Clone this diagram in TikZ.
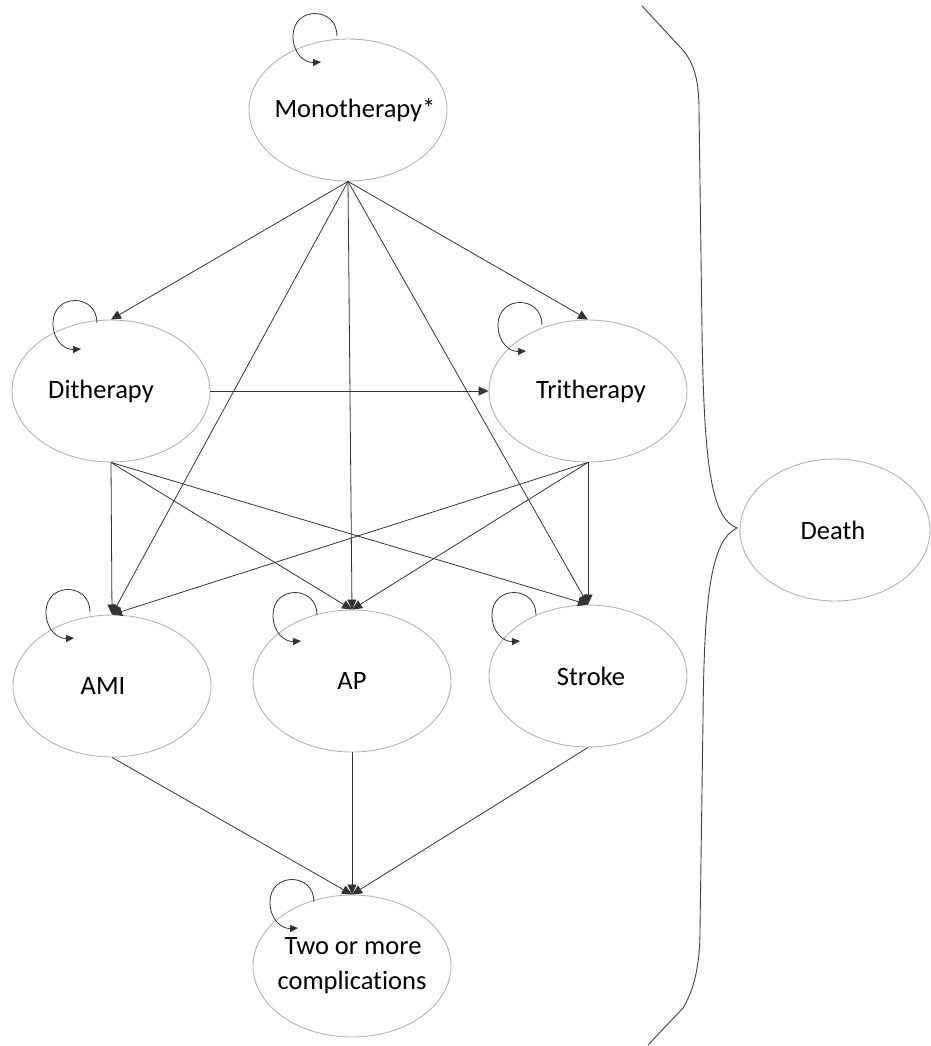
\documentclass[tikz,border=0pt]{standalone}
\usepackage{fontspec}
\setmainfont{Carlito}[Ligatures=NoCommon]
\usetikzlibrary{arrows.meta,calc,shapes.geometric}
% label of fixed zero width, shifted sideways by #1
\newcommand\lbl[2][0pt]{\makebox[0pt]{\kern#1\kern#1\relax #2}}
\newcommand\selfloop[2]{%
  \draw[selfarr] ($(#1)+(#2)$) .. controls +(0,-30) and +(0,-30) .. ++(-44,0)
    .. controls +(0,18) and +(-16,1) .. ++(28,26);}
\begin{document}
\begin{tikzpicture}[x=1pt,y=-1pt,
  state/.style={draw=black!30, line width=0.9pt, ellipse, minimum width=198pt,
    minimum height=142pt, inner sep=0pt, font=\fontsize{26.5}{35}\selectfont,
    text=black, align=center},
  arr/.style={draw=black!80, line width=0.8pt, -{Triangle[length=10pt,width=9pt]}},
  selfarr/.style={draw=black!80, line width=0.8pt, -{Triangle[length=8pt,width=7pt]}},
  brace/.style={draw=black!75, line width=0.9pt}]
\useasboundingbox (0,0) rectangle (930,1046);

\node[state] (mono)   at (348,110) {\lbl[7pt]{Monotherapy*}};
\node[state] (dit)    at (111,391) {\lbl[-10pt]{Ditherapy}};
\node[state] (tri)    at (588,391) {\lbl[3pt]{Tritherapy}};
\node[state] (ami)    at (112,686) {\lbl[-9pt]{AMI}};
\node[state] (ap)     at (352,681) {\lbl{AP}};
\node[state] (stroke) at (588,676) {\lbl[3pt]{Stroke}};
\node[state] (two)    at (352,966) {\lbl[1pt]{Two or more}\\\lbl{complications}};
\node[state, minimum width=190pt] (death) at (835,530) {\lbl[-2pt]{Death}};

% self loops
\selfloop{mono}{-11,-74}
\selfloop{dit}{-14,-68}
\selfloop{tri}{-46,-66}
\selfloop{ami}{-22,-74}
\selfloop{ap}{-35,-66}
\selfloop{stroke}{-52,-61}
\selfloop{two}{-38,-64}

% from monotherapy
\draw[arr] (mono.south) -- (dit.north);
\draw[arr] (mono.south) -- (tri.north);
\draw[arr] (mono.south) -- (ami.north);
\draw[arr] (mono.south) -- (ap.north);
\draw[arr] (mono.south) -- (stroke.north);

% from ditherapy
\draw[arr] (dit.east) -- (tri.west);
\draw[arr] (dit.south) -- (ami.north);
\draw[arr] (dit.south) -- (ap.north);
\draw[arr] (dit.south) -- (stroke.north);

% from tritherapy
\draw[arr] (tri.south) -- (ami.north);
\draw[arr] (tri.south) -- (ap.north);
\draw[arr] (tri.south) -- (stroke.north);

% to two or more
\draw[arr] (ami.south) -- (two.north);
\draw[arr] (ap.south) -- (two.north);
\draw[arr] (stroke.south) -- (two.north);

% brace towards death
\coordinate (tip) at (737,528);
\draw[brace] (642,6) -- (681,48) .. controls (694,62) and (699,80) .. (699,110)
  -- (702,330) .. controls (704,470) and (712,518) .. (tip)
  .. controls (712,540) and (704,590) .. (703,720)
  -- (700,930) .. controls (700,965) and (694,990) .. (683,1008) -- (648,1045);
\end{tikzpicture}
\end{document}
